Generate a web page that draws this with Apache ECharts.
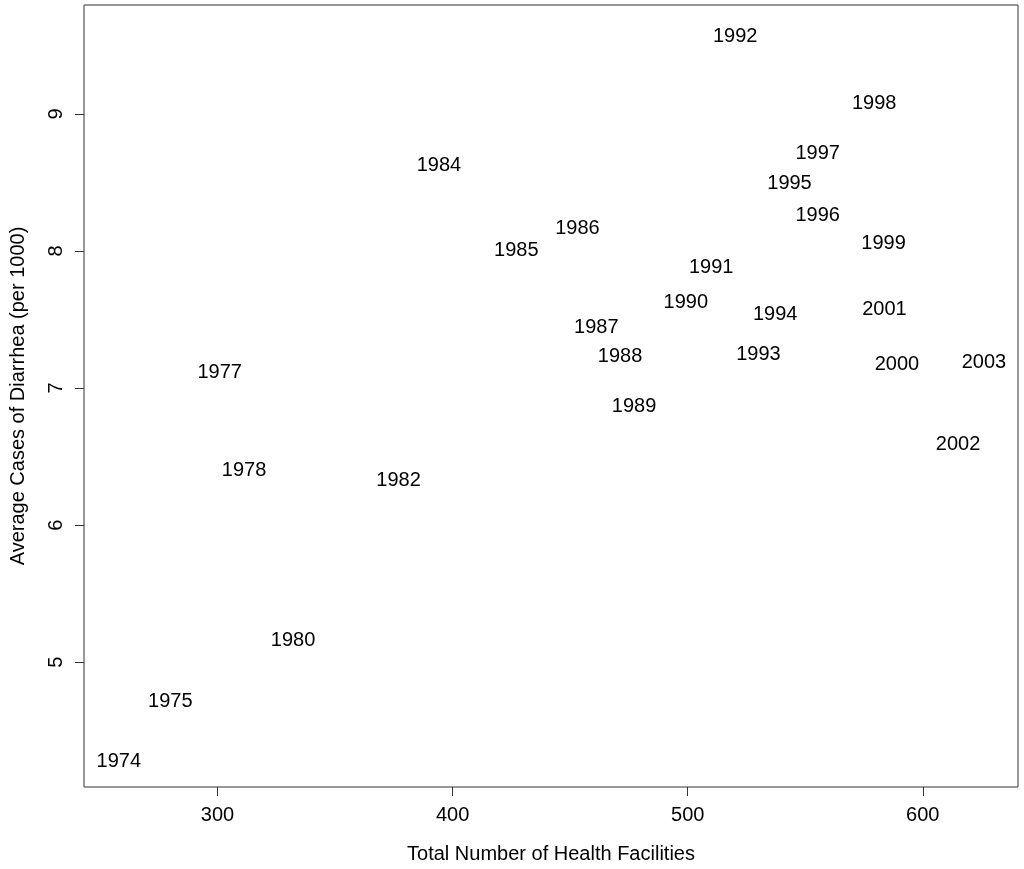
<!DOCTYPE html>
<html>
<head>
<meta charset="utf-8">
<script src="https://cdn.jsdelivr.net/npm/echarts@6/dist/echarts.min.js"></script>
<style>
html,body{margin:0;padding:0;background:#fff;}
#chart{width:1024px;height:869px;}
</style>
</head>
<body>
<div id="chart"></div>
<script>
var years = ['1974','1975','1977','1978','1980','1982','1984','1985','1986','1987','1988','1989','1990','1991','1992','1993','1994','1995','1996','1997','1998','1999','2000','2001','2002','2003'];
var facilities = [258.0,279.9,300.9,311.3,332.1,377.0,394.2,427.1,453.1,461.1,471.2,477.2,499.2,510.0,520.2,530.1,537.2,543.3,555.3,555.3,579.3,583.3,589.0,583.7,615.0,626.0];
var diarrhea = [4.288,4.727,7.126,6.411,5.169,6.338,8.636,8.015,8.175,7.454,7.240,6.878,7.638,7.888,9.575,7.255,7.551,8.500,8.272,8.725,9.085,8.066,7.182,7.587,6.599,7.199];
var xTicks = [300,400,500,600];
var yTicks = [5,6,7,8,9];

var FONT = '"Liberation Sans", Arial, Helvetica, sans-serif';
var points = years.map(function(y,i){ return {name:y, value:[facilities[i], diarrhea[i]]}; });

var chart = echarts.init(document.getElementById('chart'), null, {renderer:'canvas'});
chart.setOption({
  animation:false,
  backgroundColor:'#fff',
  grid:{left:83, right:6, top:5, bottom:81, show:true, borderColor:'#333', borderWidth:1, backgroundColor:'transparent'},
  xAxis:{
    type:'value', min:243.19, max:640.5,
    name:'Total Number of Health Facilities', nameLocation:'middle', nameGap:57,
    nameTextStyle:{fontFamily:FONT, fontSize:20, color:'#000'},
    axisLine:{show:false},
    splitLine:{show:false},
    axisTick:{show:true, length:9, inside:false, lineStyle:{color:'#333'}, customValues:xTicks},
    axisLabel:{fontFamily:FONT, fontSize:20, color:'#000', margin:18, customValues:xTicks}
  },
  yAxis:{
    type:'value', min:4.0896, max:9.794,
    name:'Average Cases of Diarrhea (per 1000)', nameLocation:'middle', nameGap:56, nameRotate:90,
    nameTextStyle:{fontFamily:FONT, fontSize:20, color:'#000'},
    axisLine:{show:false},
    splitLine:{show:false},
    axisTick:{show:true, length:9, inside:false, lineStyle:{color:'#333'}, customValues:yTicks},
    axisLabel:{fontFamily:FONT, fontSize:20, color:'#000', margin:18, rotate:90, customValues:yTicks}
  },
  series:[{
    type:'scatter',
    symbolSize:0,
    itemStyle:{color:'#000', opacity:1},
    emphasis:{disabled:true},
    data:points,
    label:{show:true, position:'inside', offset:[0,1.5], formatter:'{b}', fontFamily:FONT, fontSize:20, color:'#000', opacity:1, textBorderWidth:0, textBorderColor:'transparent'}
  }]
});
</script>
</body>
</html>
